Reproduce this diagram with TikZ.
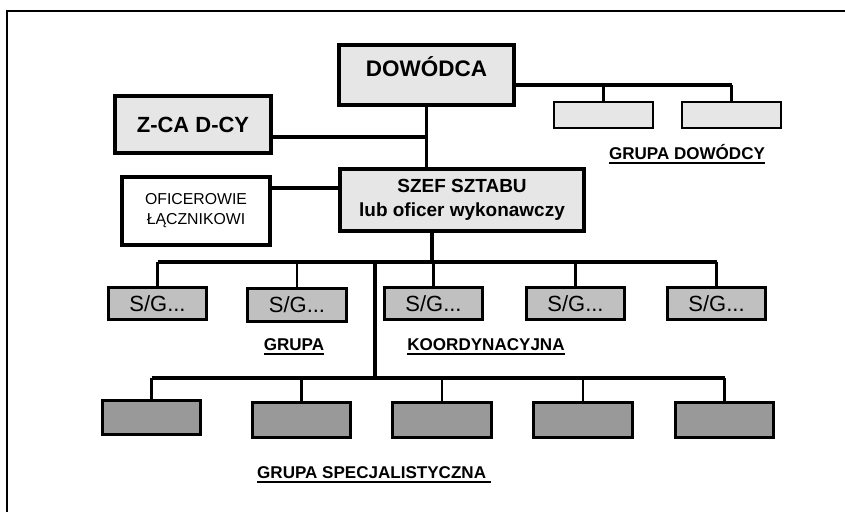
\documentclass[tikz,border=0pt]{standalone}
\usepackage{fontspec}
\setmainfont{Liberation Sans}
\usepackage{tikz}
\definecolor{boxlight}{RGB}{230,230,230}
\definecolor{boxmid}{RGB}{192,192,192}
\definecolor{boxdark}{RGB}{153,153,153}
\newcommand{\ulined}[1]{\setbox0\hbox{#1}\rlap{\rule[-0.28em]{\wd0}{0.12em}}\box0}

\begin{document}
\begin{tikzpicture}[
  font=\fontsize{12}{14}\selectfont\bfseries,
  box/.style={draw, inner sep=0pt, align=center},
  cbox/.style={box, line width=2.3pt, fill=boxlight},
  gbox/.style={box, line width=1.4pt, fill=boxlight, minimum width=1.97cm, minimum height=0.51cm},
  sgbox/.style={box, line width=1.5pt, fill=boxmid, minimum width=1.97cm, minimum height=0.65cm,
                font=\fontsize{12.5}{15}\selectfont\mdseries},
  spbox/.style={box, line width=1.5pt, fill=boxdark, minimum width=1.97cm, minimum height=0.69cm},
  lbl/.style={anchor=base, inner sep=0pt, font=\fontsize{9.7}{12}\selectfont\bfseries},
  bus/.style={line width=2.2pt},
  drop/.style={line width=1.3pt},
]
\useasboundingbox (0,0) rectangle (16.9,-10.22);
% frame
\draw[line width=1.7pt] (0.14,-10.5) -- (0.14,-0.22) -- (17.2,-0.22);
% command
\node[cbox, minimum width=3.5cm, minimum height=1.2cm, text height=1.7pt, text depth=0pt,
      font=\fontsize{12.8}{15}\selectfont\bfseries] (dow) at (8.53,-1.50) {DOWÓDCA};
\node[cbox, minimum width=3.12cm, minimum height=1.14cm, font=\fontsize{12.5}{15}\selectfont\bfseries] (zca) at (3.86,-2.49) {Z-CA D-CY};
\node[cbox, minimum width=4.88cm, minimum height=1.24cm, font=\fontsize{10.8}{13.7}\selectfont\bfseries] (szef) at (9.24,-4.00)
  {SZEF SZTABU\\ lub oficer wykonawczy};
\node[box, line width=2.3pt, fill=white, minimum width=2.96cm, minimum height=1.36cm, font=\fontsize{9}{11.4}\selectfont\mdseries] (ofc) at (3.92,-4.22)
  {OFICEROWIE\\ ŁĄCZNIKOWI};
% commander's group
\node[gbox] (gd1) at (12.07,-2.30) {};
\node[gbox] (gd2) at (14.63,-2.30) {};
\node[lbl] (gdlbl) at (13.74,-3.18) {\ulined{GRUPA DOWÓDCY}};
% coordination group
\node[sgbox] (sg1) at (3.15,-6.07) {S/G...};
\node[sgbox] (sg2) at (5.94,-6.10) {S/G...};
\node[sgbox] (sg3) at (8.67,-6.07) {S/G...};
\node[sgbox] (sg4) at (11.51,-6.07) {S/G...};
\node[sgbox] (sg5) at (14.33,-6.07) {S/G...};
\node[lbl] (grlbl) at (5.88,-7.0) {\ulined{GRUPA}};
\node[lbl] (kolbl) at (9.72,-7.0) {\ulined{KOORDYNACYJNA}};
% specialist group
\node[spbox] (sp1) at (3.03,-8.35) {};
\node[spbox] (sp2) at (6.03,-8.40) {};
\node[spbox] (sp3) at (8.84,-8.40) {};
\node[spbox] (sp4) at (11.66,-8.40) {};
\node[spbox] (sp5) at (14.49,-8.40) {};
\node[lbl] (splbl) at (7.48,-9.56) {\ulined{GRUPA SPECJALISTYCZNA\ }};
% bus lines
\coordinate (gdbus) at (0,-1.70);
\coordinate (upbus) at (0,-5.24);
\coordinate (lowbus) at (0,-7.56);
\coordinate (trunk) at (7.5,-5.24);
% links
\draw[bus] (dow.south) -- (dow.south |- szef.north);
\draw[bus] ([yshift=-0.25cm]zca.east) -- ([yshift=-0.25cm]zca.east -| dow.south);
\draw[bus] ([yshift=0.24cm]szef.west) -- ([yshift=0.24cm]szef.west -| ofc.east);
\draw[bus] (dow.east |- gdbus) -- (gd2.north |- gdbus);
\draw[drop] (gd1.north) -- (gd1.north |- gdbus);
\draw[drop] (gd2.north) -- (gd2.north |- gdbus);
\draw[bus] ([xshift=-0.6cm]szef.south) -- ([xshift=-0.6cm]szef.south |- upbus);
\draw[bus] (sg1.north |- upbus) -- (sg5.north |- upbus);
\draw[drop] (sg1.north) -- (sg1.north |- upbus);
\draw[drop] (sg2.north) -- (sg2.north |- upbus);
\draw[drop] (sg3.north) -- (sg3.north |- upbus);
\draw[drop] (sg4.north) -- (sg4.north |- upbus);
\draw[drop] (sg5.north) -- (sg5.north |- upbus);
\draw[bus] (trunk) -- (trunk |- lowbus);
\draw[bus] (sp1.north |- lowbus) -- (sp5.north |- lowbus);
\draw[drop] (sp1.north) -- (sp1.north |- lowbus);
\draw[drop] (sp2.north) -- (sp2.north |- lowbus);
\draw[drop] (sp3.north) -- (sp3.north |- lowbus);
\draw[drop] (sp4.north) -- (sp4.north |- lowbus);
\draw[drop] (sp5.north) -- (sp5.north |- lowbus);
\end{tikzpicture}
\end{document}
